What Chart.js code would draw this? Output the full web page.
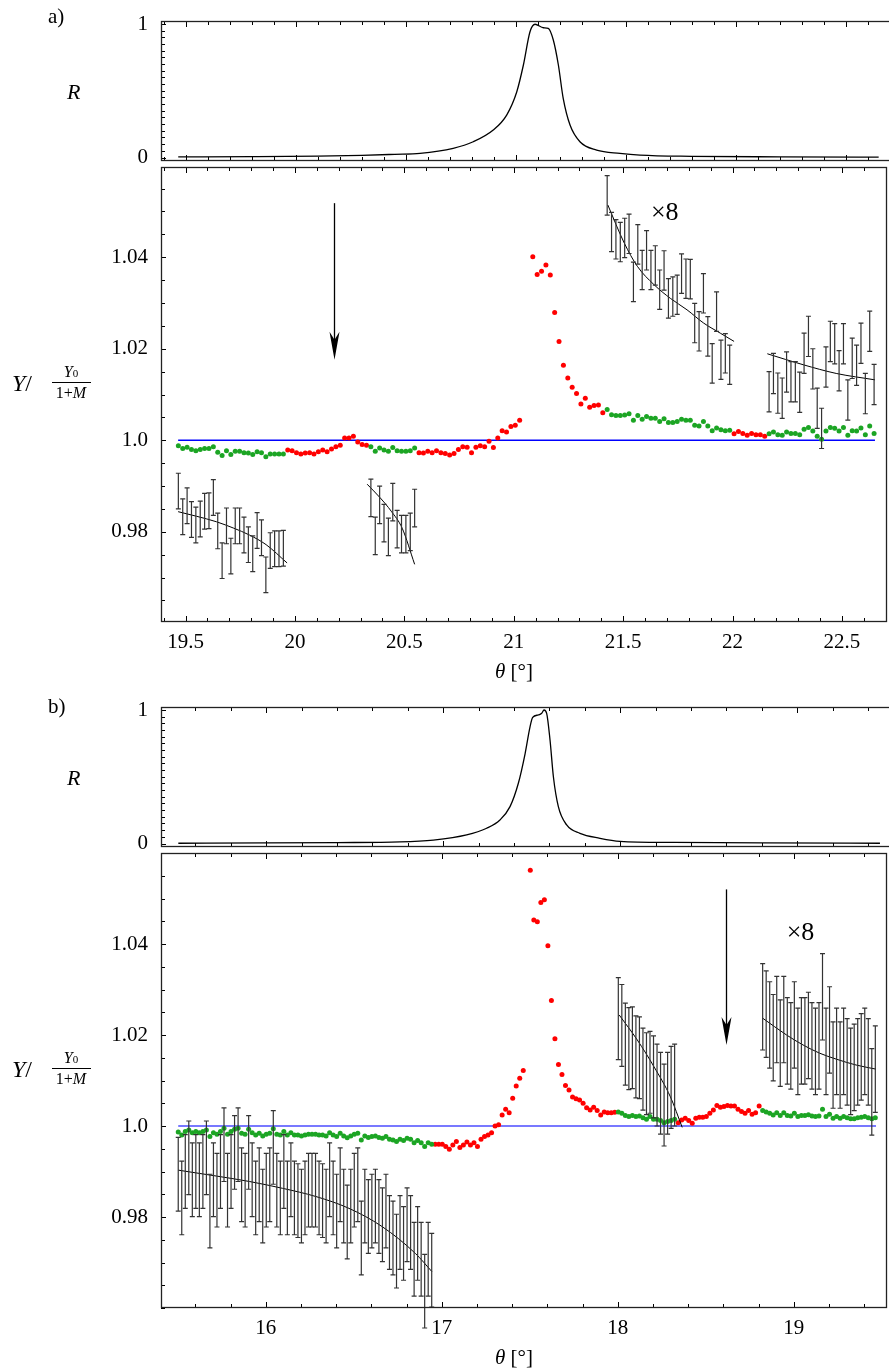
<!DOCTYPE html>
<html><head><meta charset="utf-8">
<script src="https://cdn.jsdelivr.net/npm/chart.js@4/dist/chart.umd.min.js"></script>
<style>
html,body{margin:0;padding:0;background:#fff;}
body{width:889px;height:1372px;overflow:hidden;position:relative;}
canvas{position:absolute;left:0;}
.t{position:absolute;font-family:'Liberation Serif',serif;color:#000;white-space:nowrap;line-height:1;}
</style></head><body>
<canvas id="ra" width="891" height="192" style="top:-5px"></canvas>
<canvas id="ya" width="891" height="521" style="top:141px"></canvas>
<canvas id="rb" width="891" height="192" style="top:681px"></canvas>
<canvas id="yb" width="891" height="521" style="top:827px"></canvas>

<div class="t" style="left:48px;top:6px;font-size:21px;">a)</div>
<div class="t" style="left:48px;top:696px;font-size:21px;">b)</div>
<div class="t" style="left:67px;top:81px;font-size:22px;font-style:italic;">R</div>
<div class="t" style="left:67px;top:767px;font-size:22px;font-style:italic;">R</div>

<div class="t" style="left:12px;top:371px;font-size:24px;"><i>Y</i>/</div>
<div class="t" style="left:50px;top:364px;width:42px;text-align:center;font-size:16px;"><i>Y</i><span style="font-size:11px;">0</span></div>
<div style="position:absolute;left:52px;top:382px;width:39px;height:1px;background:#000;"></div>
<div class="t" style="left:50px;top:385px;width:42px;text-align:center;font-size:16px;">1+<i>M</i></div>

<div class="t" style="left:12px;top:1057px;font-size:24px;"><i>Y</i>/</div>
<div class="t" style="left:50px;top:1050px;width:42px;text-align:center;font-size:16px;"><i>Y</i><span style="font-size:11px;">0</span></div>
<div style="position:absolute;left:52px;top:1068px;width:39px;height:1px;background:#000;"></div>
<div class="t" style="left:50px;top:1071px;width:42px;text-align:center;font-size:16px;">1+<i>M</i></div>

<div class="t" style="left:495px;top:661px;font-size:21px;"><i>θ</i> [°]</div>
<div class="t" style="left:495px;top:1347px;font-size:21px;"><i>θ</i> [°]</div>

<script>
// ================= DATA: panel a) =================
const aThetaStart = 19.467, aThetaStep = 0.02;
const aY = [
0.9988,0.9982,0.9985,0.9980,0.9977,0.9980,0.9982,0.9982,0.9986,0.9974,
0.9967,0.9977,0.9969,0.9976,0.9976,0.9973,0.9972,0.9969,0.9975,0.9973,
0.9964,0.9970,0.9970,0.9970,0.9970,0.9979,0.9977,0.9973,0.9970,0.9972,
0.9973,0.9970,0.9975,0.9979,0.9975,0.9981,0.9986,0.9989,1.0005,1.0005,
1.0009,0.9996,0.9991,0.9989,0.9986,0.9976,0.9983,0.9979,0.9976,0.9984,
0.9977,0.9976,0.9976,0.9977,0.9983,0.9973,0.9972,0.9976,0.9973,0.9977,
0.9973,0.9971,0.9968,0.9971,0.9980,0.9986,0.9985,0.9973,0.9985,0.9988,
0.9986,0.9998,0.9984,1.0005,1.0021,1.0018,1.0030,1.0033,1.0044,null,
null,1.0401,1.0362,1.0369,1.0383,1.0361,1.0279,1.0216,1.0164,1.0136,
1.0116,1.0102,1.0079,1.0092,1.0072,1.0076,1.0077,1.0060,1.0067,1.0056,
1.0054,1.0054,1.0055,1.0058,1.0044,1.0054,1.0046,1.0052,1.0048,1.0048,
1.0041,1.0047,1.0039,1.0039,1.0041,1.0046,1.0044,1.0044,1.0033,1.0031,
1.0041,1.0031,1.0021,1.0027,1.0023,1.0021,1.0022,1.0014,1.0019,1.0015,
1.0011,1.0015,1.0012,1.0012,1.0009,1.0014,1.0018,1.0012,1.0011,1.0018,
1.0015,1.0015,1.0012,1.0024,1.0028,1.0020,1.0009,1.0002,1.0020,1.0028,
1.0026,1.0020,1.0028,1.0011,1.0021,1.0020,1.0027,1.0012,1.0031,1.0015
];
const aRedRuns = [[25,43],[55,97],[127,134]];
// x8 error bars: start index, centres, half-error
const aBar1Start = 0;
const aBar1 = [0.9889,0.9833,0.9857,0.9827,0.9815,0.9828,0.9845,0.9846,0.9875,0.9802,0.9737,0.9813,0.9747,0.9813,0.9813,0.9793,0.9772,0.9752,0.9803,0.9787,0.9706,0.9759,0.9763,0.9763,0.9764];
const aBar1Err = 0.0039;
const aBar2Start = 44;
const aBar2 = [0.9874,0.9791,0.9859,0.9819,0.9789,0.9865,0.9806,0.9795,0.9795,0.9800,0.9852];
const aBar2Err = 0.0041;
const aBar3Start = 98;
const aBar3 = [1.0535,1.0455,1.0439,1.0433,1.0442,1.0451,1.0346,1.0428,1.0372,1.0415,1.0372,1.0382,1.0329,1.0371,1.0310,1.0314,1.0318,1.0364,1.0353,1.0352,1.0256,1.0238,1.0321,1.0227,1.0168,1.0281,1.0176,1.0190,1.0165];
const aBar3Err = 0.0043;
const aBar4Start = 135;
const aBar4 = [1.0106,1.0146,1.0103,1.0092,1.0149,1.0128,1.0128,1.0105,1.0190,1.0227,1.0156,1.0070,1.0026,1.0160,1.0216,1.0211,1.0152,1.0211,1.0088,1.0179,1.0164,1.0212,1.0102,1.0238,1.0122];
const aBar4Err = 0.0044;
// fitted curves
const aFit1X = [19.466,19.55,19.641,19.72,19.792,19.868,19.964];
const aFit1Y = [0.9844,0.9834,0.9822,0.9808,0.9793,0.9772,0.9732];
const aFit2X = [20.33,20.39,20.44,20.49,20.547];
const aFit2Y = [0.9904,0.9874,0.9845,0.9808,0.9729];
const aFit3X = [21.430,21.505,21.565,21.641,21.716,21.792,21.868,21.944,22.007];
const aFit3Y = [1.0514,1.0431,1.0380,1.0340,1.0310,1.0285,1.0256,1.0234,1.0216];
const aFit4X = [22.159,22.323,22.474,22.651];
const aFit4Y = [1.0189,1.0165,1.0146,1.0132];
// reflectivity
const aRX = [19.466,19.8,20.1,20.3,20.45,20.565,20.716,20.807,20.898,20.959,21.005,21.035,21.065,21.088,21.126,21.148,21.171,21.194,21.216,21.247,21.292,21.368,21.474,21.565,21.8,22.2,22.65];
const aRY = [0.004,0.006,0.010,0.016,0.024,0.031,0.069,0.118,0.206,0.318,0.493,0.693,0.942,0.998,0.972,0.968,0.880,0.693,0.443,0.243,0.118,0.056,0.031,0.018,0.009,0.005,0.003];
const aLineX = [19.466,22.651];
const aArrow = [20.18,1.0518,1.0176];
const aTimes8 = [21.69,1.0497];
const aXTicks = [19.5,20,20.5,21,21.5,22,22.5];
const aXLabels = ['19.5','20','20.5','21','21.5','22','22.5'];

// ================= DATA: panel b) =================
const bThetaStart = 15.503, bThetaStep = 0.02;
const bY = [
0.9987,0.9980,0.9988,0.9991,0.9985,0.9988,0.9985,0.9988,0.9991,0.9977,
0.9985,0.9982,0.9988,0.9995,0.9982,0.9988,0.9993,0.9995,0.9984,0.9982,
0.9993,0.9985,0.9980,0.9984,0.9978,0.9982,0.9984,0.9994,0.9982,0.9980,
0.9988,0.9980,0.9985,0.9980,0.9980,0.9978,0.9980,0.9982,0.9982,0.9982,
0.9980,0.9980,0.9978,0.9985,0.9980,0.9977,0.9984,0.9978,0.9974,0.9978,
0.9982,0.9984,0.9969,0.9978,0.9975,0.9977,0.9978,0.9975,0.9973,0.9977,
0.9971,0.9969,0.9966,0.9971,0.9968,0.9973,0.9971,0.9963,0.9968,0.9963,
0.9955,0.9963,0.9960,0.9960,0.9960,0.9960,0.9955,0.9949,0.9958,0.9966,
0.9953,0.9958,0.9965,0.9958,0.9963,0.9955,0.9971,0.9977,0.9980,0.9985,
1.0000,1.0003,1.0024,1.0037,1.0029,1.0061,1.0088,1.0105,1.0122,null,
1.0562,1.0453,1.0449,1.0491,1.0497,1.0396,1.0276,1.0192,1.0135,1.0113,
1.0089,1.0079,1.0064,1.0060,1.0057,1.0050,1.0040,1.0035,1.0041,1.0034,
1.0024,1.0031,1.0029,1.0029,1.0030,1.0031,1.0028,1.0023,1.0021,1.0023,
1.0021,1.0022,1.0018,1.0015,1.0021,1.0015,1.0015,1.0012,1.0007,1.0010,
1.0012,1.0015,1.0007,1.0013,1.0017,1.0012,1.0006,1.0017,1.0019,1.0019,
1.0021,1.0028,1.0035,1.0045,1.0041,1.0043,1.0045,1.0044,1.0044,1.0037,
1.0032,1.0028,1.0034,1.0026,1.0029,1.0044,1.0034,1.0031,1.0028,1.0024,
1.0029,1.0023,1.0029,1.0023,1.0022,1.0028,1.0021,1.0023,1.0023,1.0025,
1.0022,1.0021,1.0022,1.0037,1.0021,1.0026,1.0017,1.0021,1.0017,1.0021,
1.0018,1.0016,1.0016,1.0018,1.0019,1.0021,1.0018,1.0016,1.0018
];
const bRedRuns = [[73,124],[142,165]];
const bBar1Start = 0;
const bBar1 = [
0.9894,0.9842,0.9900,0.9930,0.9882,0.9900,0.9882,0.9900,0.9930,0.9813,
0.9882,0.9859,0.9900,0.9959,0.9859,0.9900,0.9942,0.9959,0.9871,0.9859,
0.9942,0.9882,0.9842,0.9871,0.9824,0.9859,0.9871,0.9953,0.9859,0.9842,
0.9900,0.9842,0.9882,0.9842,0.9836,0.9824,0.9842,0.9859,0.9859,0.9859,
0.9842,0.9836,0.9824,0.9882,0.9842,0.9813,0.9871,0.9824,0.9789,0.9824,
0.9859,0.9871,0.9754,0.9824,0.9801,0.9813,0.9824,0.9801,0.9783,0.9813,
0.9766,0.9754,0.9725,0.9766,0.9742,0.9783,0.9766,0.9707,0.9742,0.9707,
0.9637,0.9707,0.9683];
const bBar1Err = 0.0081;
const bBar2Start = 125;
const bBar2 = [1.0236,1.0221,1.0180,1.0170,1.0172,1.0152,1.0150,1.0125,1.0115,1.0118,1.0108,1.0090,1.0072,1.0046,1.0072,1.0085,1.0090];
const bBar2Err = 0.0090;
const bBar3Start = 166;
const bBar3 = [1.0262,1.0246,1.0222,1.0194,1.0234,1.0182,1.0234,1.0187,1.0176,1.0222,1.0164,1.0187,1.0187,1.0199,1.0176,1.0164,1.0176,1.0284,1.0164,1.0211,1.0134,1.0164,1.0134,1.0164,1.0141,1.0120,1.0129,1.0141,1.0152,1.0164,1.0141,1.0075,1.0125];
const bBar3Err = 0.0095;
const bFit1X = [15.503,15.720,15.908,16.096,16.285,16.473,16.661,16.850,16.944];
const bFit1Y = [0.9903,0.9890,0.9878,0.9863,0.9845,0.9819,0.9779,0.9720,0.9680];
const bFit2X = [18.008,18.111,18.206,18.299,18.366];
const bFit2Y = [1.0244,1.0189,1.0130,1.0064,0.9997];
const bFit3X = [18.823,18.959,19.053,19.147,19.241,19.354,19.467];
const bFit3Y = [1.0237,1.0200,1.0178,1.0160,1.0147,1.0134,1.0125];
const bRX = [15.503,16.0,16.4,16.755,16.944,17.132,17.245,17.320,17.377,17.424,17.462,17.490,17.505,17.537,17.556,17.569,17.584,17.603,17.622,17.650,17.697,17.772,17.885,17.998,18.3,18.8,19.467];
const bRY = [0.002,0.004,0.007,0.012,0.026,0.064,0.114,0.176,0.276,0.451,0.672,0.874,0.944,0.963,0.975,1.0,0.975,0.775,0.5,0.276,0.139,0.076,0.039,0.016,0.008,0.004,0.002];
const bLineX = [15.503,19.467];
const bArrow = [18.614,1.0520,1.0178];
const bTimes8 = [19.038,1.0424];
const bXTicks = [16,17,18,19];
const bXLabels = ['16','17','18','19'];

// shared axis ticks
const yTicks = [0.98,1.0,1.02,1.04];
const yLabels = ['0.98','1.0','1.02','1.04'];
const rTicks = [0,1];
const rLabels = ['0','1'];

// ================= helpers =================
const FONT = "'Liberation Serif', serif";
const RED = '#ff0000', GREEN = '#1ca524';

function scatterPts(start, step, vals, runs, wantRed){
  const out = [];
  vals.forEach((v,i)=>{
    if(v===null) return;
    const red = runs.some(r=>i>=r[0] && i<=r[1]);
    if(red===wantRed) out.push({x:start+i*step, y:v});
  });
  return out;
}
function barPts(start, step, i0, vals, err){
  return vals.map((v,k)=>({x:start+(i0+k)*step, y:v, e:err}));
}
function xyPts(xs, ys){ return xs.map((x,i)=>({x:x, y:ys[i]})); }

function frameTicks(xMaj, xStep, yMaj, yStep){
  return {id:'frameTicks', afterDraw(chart){
    const {ctx, chartArea:a, scales} = chart; const x = scales.x, y = scales.y;
    ctx.save(); ctx.strokeStyle = '#000'; ctx.lineWidth = 1; ctx.beginPath();
    const k0 = Math.ceil(x.min/xStep - 1e-6), k1 = Math.floor(x.max/xStep + 1e-6);
    for(let k=k0;k<=k1;k++){
      const v = k*xStep; const maj = xMaj.some(m=>Math.abs(m-v)<1e-6);
      const px = Math.round(x.getPixelForValue(v))+0.5; const L = maj?6:4;
      ctx.moveTo(px,a.bottom); ctx.lineTo(px,a.bottom-L);
      ctx.moveTo(px,a.top); ctx.lineTo(px,a.top+L);
    }
    const j0 = Math.ceil(y.min/yStep - 1e-6), j1 = Math.floor(y.max/yStep + 1e-6);
    for(let j=j0;j<=j1;j++){
      const v = j*yStep; const maj = yMaj.some(m=>Math.abs(m-v)<1e-6);
      const py = Math.round(y.getPixelForValue(v))+0.5; const L = maj?5:4;
      ctx.moveTo(a.left,py); ctx.lineTo(a.left+L,py);
    }
    ctx.stroke();
    ctx.strokeStyle = '#222'; ctx.lineWidth = 1.3;
    ctx.strokeRect(a.left+0.5, a.top+0.5, a.right-a.left-1, a.bottom-a.top-1);
    ctx.restore();
  }};
}
const errorBars = {id:'errorBars', afterDatasetsDraw(chart){
  const {ctx, scales:{x,y}} = chart;
  ctx.save(); ctx.strokeStyle = '#333'; ctx.lineWidth = 1.2;
  chart.data.datasets.forEach(ds=>{
    if(!ds.errBars) return;
    ds.data.forEach(p=>{
      const px = x.getPixelForValue(p.x);
      const y1 = y.getPixelForValue(p.y+p.e), y2 = y.getPixelForValue(p.y-p.e);
      ctx.beginPath();
      ctx.moveTo(px,y1); ctx.lineTo(px,y2);
      ctx.moveTo(px-2.5,y1); ctx.lineTo(px+2.5,y1);
      ctx.moveTo(px-2.5,y2); ctx.lineTo(px+2.5,y2);
      ctx.stroke();
    });
  });
  ctx.restore();
}};
function annot(arrow, t8){
  return {id:'annot', afterDatasetsDraw(chart){
    const {ctx, scales:{x,y}} = chart;
    const px = Math.round(x.getPixelForValue(arrow[0]))+0.5;
    const yt = y.getPixelForValue(arrow[1]), yb = y.getPixelForValue(arrow[2]);
    ctx.save(); ctx.strokeStyle='#000'; ctx.fillStyle='#000'; ctx.lineWidth=1.3;
    ctx.beginPath(); ctx.moveTo(px,yt); ctx.lineTo(px,yb-18); ctx.stroke();
    ctx.beginPath(); ctx.moveTo(px,yb); ctx.lineTo(px-5,yb-28); ctx.lineTo(px,yb-20); ctx.lineTo(px+5,yb-28); ctx.closePath(); ctx.fill();
    ctx.font = "26px " + FONT; ctx.textAlign='center'; ctx.textBaseline='middle';
    ctx.fillText('\u00d78', x.getPixelForValue(t8[0]), y.getPixelForValue(t8[1]));
    ctx.restore();
  }};
}

function commonY(min,max,ticks,labels){
  return {type:'linear', min:min, max:max,
    afterBuildTicks:s=>{s.ticks = ticks.map(v=>({value:v}));},
    afterFit:s=>{s.width = 161;},
    grid:{display:false, drawTicks:false}, border:{display:false},
    ticks:{padding:13, color:'#000', font:{family:FONT, size:21}, autoSkip:false, callback:(v,i)=>labels[i]}};
}

function rChart(id, xmin, xmax, rx, ry, xTicks, xStep){
  new Chart(document.getElementById(id), {
    type:'scatter',
    data:{datasets:[{data:xyPts(rx,ry), showLine:true, borderColor:'#000', borderWidth:1.3, pointRadius:0, cubicInterpolationMode:'monotone'}]},
    options:{responsive:false, animation:false, events:[],
      layout:{padding:{top:26,bottom:26,left:0,right:0}},
      plugins:{legend:{display:false}, tooltip:{enabled:false}},
      scales:{
        x:{type:'linear', display:false, min:xmin, max:xmax},
        y:commonY(-0.0262, 1.0225, rTicks, rLabels)
      }},
    plugins:[frameTicks(xTicks, xStep, rTicks, 0.05)]
  });
}

function yChart(id, o){
  const ds = [];
  [o.fit1,o.fit2,o.fit3,o.fit4].filter(Boolean).forEach(f=>ds.push({data:f, showLine:true, borderColor:'#000', borderWidth:1, pointRadius:0, cubicInterpolationMode:'monotone', order:0}));
  o.bars.forEach(b=>ds.push({data:b, errBars:true, pointRadius:0, showLine:false, order:1}));
  ds.push({data:o.green, pointRadius:2.5, pointBackgroundColor:GREEN, pointBorderWidth:0, showLine:false, order:2});
  ds.push({data:o.red, pointRadius:2.5, pointBackgroundColor:RED, pointBorderWidth:0, showLine:false, order:2});
  ds.push({data:o.line, showLine:true, borderColor:o.lineColor, borderWidth:o.lineWidth, pointRadius:0, order:3});
  new Chart(document.getElementById(id), {
    type:'scatter', data:{datasets:ds},
    options:{responsive:false, animation:false, events:[],
      layout:{padding:{top:26,bottom:0,left:0,right:0}},
      plugins:{legend:{display:false}, tooltip:{enabled:false}},
      scales:{
        x:{type:'linear', min:o.xmin, max:o.xmax,
          afterBuildTicks:s=>{s.ticks = o.xTicks.map(v=>({value:v}));},
          afterFit:s=>{s.height = 40;},
          grid:{display:false, drawTicks:false}, border:{display:false},
          ticks:{padding:8, color:'#000', font:{family:FONT, size:21}, autoSkip:false, maxRotation:0, callback:(v,i)=>o.xLabels[i]}},
        y:commonY(o.ymin, o.ymax, yTicks, yLabels)
      }},
    plugins:[errorBars, annot(o.arrow, o.t8), frameTicks(o.xTicks, o.xStep, yTicks, 0.005)]
  });
}

// ================= build =================
rChart('ra', 19.3877, 22.706, aRX, aRY, aXTicks, 0.1);
yChart('ya', {
  xmin:19.3877, xmax:22.706, ymin:0.9603, ymax:1.0597, xTicks:aXTicks, xLabels:aXLabels, xStep:0.1,
  green:scatterPts(aThetaStart,aThetaStep,aY,aRedRuns,false),
  red:scatterPts(aThetaStart,aThetaStep,aY,aRedRuns,true),
  bars:[barPts(aThetaStart,aThetaStep,aBar1Start,aBar1,aBar1Err), barPts(aThetaStart,aThetaStep,aBar2Start,aBar2,aBar2Err),
        barPts(aThetaStart,aThetaStep,aBar3Start,aBar3,aBar3Err), barPts(aThetaStart,aThetaStep,aBar4Start,aBar4,aBar4Err)],
  fit1:xyPts(aFit1X,aFit1Y), fit2:xyPts(aFit2X,aFit2Y), fit3:xyPts(aFit3X,aFit3Y), fit4:xyPts(aFit4X,aFit4Y),
  line:xyPts(aLineX,[1,1]), lineColor:'#0000ff', lineWidth:1.3, arrow:aArrow, t8:aTimes8
});
rChart('rb', 15.4051, 19.5294, bRX, bRY, bXTicks, 0.2);
yChart('yb', {
  xmin:15.4051, xmax:19.5294, ymin:0.96, ymax:1.06, xTicks:bXTicks, xLabels:bXLabels, xStep:0.2,
  green:scatterPts(bThetaStart,bThetaStep,bY,bRedRuns,false),
  red:scatterPts(bThetaStart,bThetaStep,bY,bRedRuns,true),
  bars:[barPts(bThetaStart,bThetaStep,bBar1Start,bBar1,bBar1Err), barPts(bThetaStart,bThetaStep,bBar2Start,bBar2,bBar2Err),
        barPts(bThetaStart,bThetaStep,bBar3Start,bBar3,bBar3Err)],
  fit1:xyPts(bFit1X,bFit1Y), fit2:xyPts(bFit2X,bFit2Y), fit3:xyPts(bFit3X,bFit3Y),
  line:xyPts(bLineX,[1,1]), lineColor:'#4b4bff', lineWidth:1.6, arrow:bArrow, t8:bTimes8
});
</script>
</body></html>
